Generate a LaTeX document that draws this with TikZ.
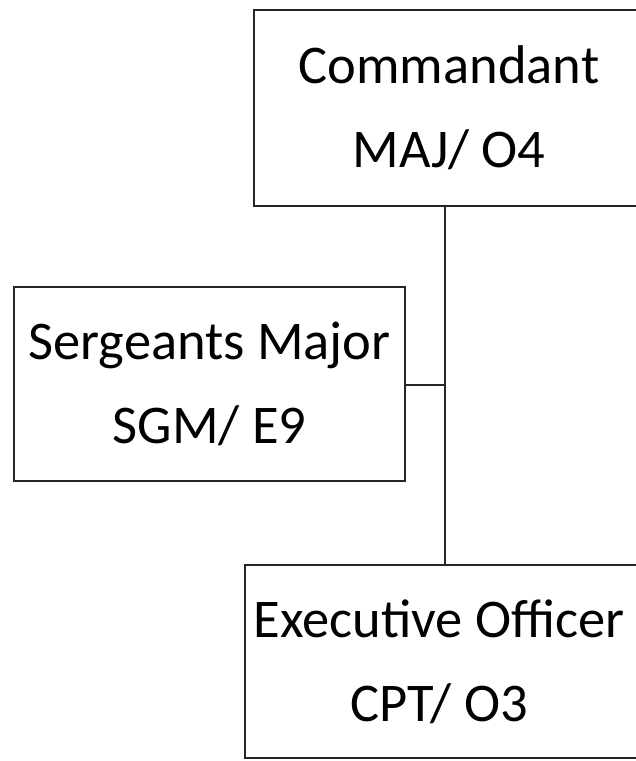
\documentclass[tikz,border=0pt]{standalone}
\usepackage{fontspec}
\setmainfont{Carlito}
\begin{document}
\begin{tikzpicture}[x=1pt,y=-1pt,
  rank/.style={draw=black!85, line width=1.5pt, rectangle, inner sep=0pt},
  caption/.style={align=center, inner sep=0pt, text=black,
    font=\fontsize{54.5}{84}\selectfont},
  link/.style={draw=black!85, line width=1.5pt}]
  \useasboundingbox (0,0) rectangle (636,761);
  \clip (0,0) rectangle (636,761);
  % boxes (the two on the right run past the page edge)
  \node[rank, minimum width=420pt, minimum height=196pt] (cmd) at (464,108) {};
  \node[rank, minimum width=391pt, minimum height=194pt] (sgm) at (209.5,384) {};
  \node[rank, minimum width=420pt, minimum height=193pt] (xo) at (455,661.5) {};
  % titles
  \node[caption] at (449,108) {Commandant\\MAJ/ O4};
  \node[caption] at (sgm.center) {Sergeants Major\\SGM/ E9};
  \node[caption] at (439,661.5) {Executive Officer\\CPT/ O3};
  % connectors
  \coordinate (j) at (445,385);
  \draw[link] (j |- cmd.south) -- (j |- xo.north);
  \draw[link] (sgm.east |- j) -- (j);
\end{tikzpicture}
\end{document}
